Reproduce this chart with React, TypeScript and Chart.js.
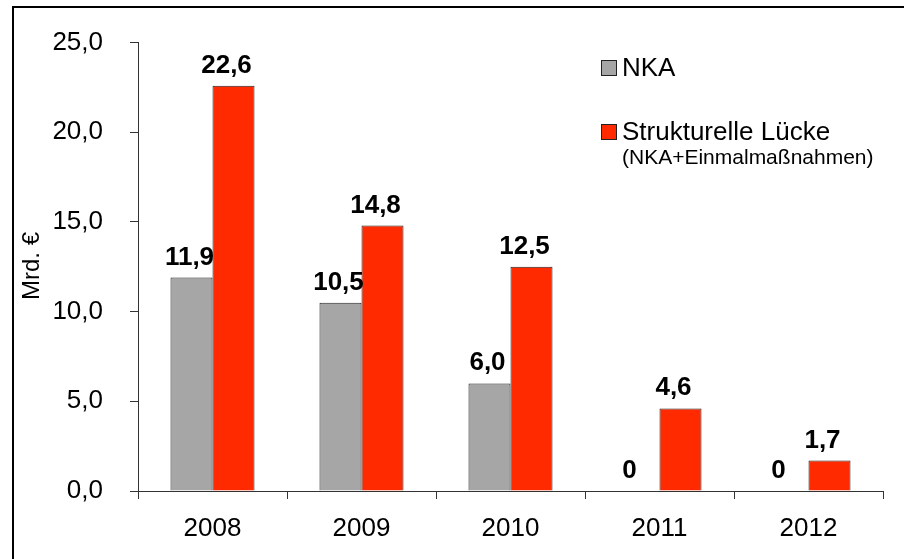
import React, { useEffect, useRef } from "react";
import { Chart, registerables } from "chart.js";

Chart.register(...registerables);

const categories = ["2008", "2009", "2010", "2011", "2012"];
const nkaValues = [11.9, 10.5, 6.0, 0, 0];
const luckeValues = [22.6, 14.8, 12.5, 4.6, 1.7];
const nkaLabel = "NKA";
const luckeLabel = "Strukturelle Lücke";
const luckeSubLabel = "(NKA+Einmalmaßnahmen)";
const yTitle = "Mrd. €";

const FONT = '"Liberation Sans", Arial, sans-serif';
const GRAY = "#A6A6A6";
const RED = "#FF2A00";

const fmt = (v: number) => (v === 0 ? "0" : v.toFixed(1).replace(".", ","));

const decorPlugin = {
  id: "decor",
  afterDatasetsDraw(chart: any) {
    const ctx = chart.ctx;
    ctx.save();
    // data labels
    ctx.fillStyle = "#000";
    ctx.font = `bold 26px ${FONT}`;
    ctx.textAlign = "center";
    ctx.textBaseline = "alphabetic";
    chart.data.datasets.forEach((ds: any, di: number) => {
      const meta = chart.getDatasetMeta(di);
      meta.data.forEach((bar: any, i: number) => {
        const v = ds.data[i];
        const shift = v === 0 ? -9 : di === 0 ? -2 : -7;
        ctx.fillText(fmt(v), bar.x + shift, bar.y - 13);
      });
    });
    // y title
    ctx.save();
    ctx.translate(39, 266);
    ctx.rotate(-Math.PI / 2);
    ctx.font = `24px ${FONT}`;
    ctx.textAlign = "center";
    ctx.textBaseline = "alphabetic";
    ctx.fillText(yTitle, 0, 0);
    ctx.restore();
    // legend
    ctx.lineWidth = 1;
    ctx.strokeStyle = "#222";
    ctx.fillStyle = GRAY;
    ctx.fillRect(601.5, 60.5, 15, 15);
    ctx.strokeRect(601.5, 60.5, 15, 15);
    ctx.fillStyle = RED;
    ctx.fillRect(601.5, 124.5, 15, 15);
    ctx.strokeRect(601.5, 124.5, 15, 15);
    ctx.fillStyle = "#000";
    ctx.textAlign = "left";
    ctx.font = `26px ${FONT}`;
    ctx.fillText(nkaLabel, 622, 76);
    ctx.fillText(luckeLabel, 622, 140);
    ctx.font = `21px ${FONT}`;
    ctx.fillText(luckeSubLabel, 622, 164);
    // frame
    ctx.fillStyle = "#000";
    ctx.fillRect(12, 6, 904, 2);
    ctx.fillRect(12, 6, 2, 559);
    ctx.restore();
  },
};

export default function App() {
  const ref = useRef<HTMLCanvasElement | null>(null);
  useEffect(() => {
    document.body.style.margin = "0";
    const canvas = ref.current!;
    const chart = new Chart(canvas, {
      type: "bar",
      data: {
        labels: categories,
        datasets: [
          {
            label: nkaLabel,
            data: nkaValues,
            backgroundColor: GRAY,
            borderColor: "#222",
            borderWidth: 1,
            borderSkipped: "bottom",
            categoryPercentage: 0.564,
            barPercentage: 1,
          },
          {
            label: luckeLabel,
            data: luckeValues,
            backgroundColor: RED,
            borderColor: "#222",
            borderWidth: 1,
            borderSkipped: "bottom",
            categoryPercentage: 0.564,
            barPercentage: 1,
          },
        ],
      },
      options: {
        responsive: false,
        animation: false,
        layout: { padding: { left: 0, top: 41, right: 21, bottom: 0 } },
        plugins: { legend: { display: false }, tooltip: { enabled: false } },
        scales: {
          x: {
            afterFit: (s: any) => {
              s.height = 68;
            },
            grid: {
              drawOnChartArea: false,
              drawTicks: true,
              tickLength: 8,
              color: "#333",
              offset: true,
            },
            border: { display: true, color: "#333", width: 1 },
            ticks: {
              color: "#000",
              font: { family: FONT, size: 26 },
              padding: 14,
              maxRotation: 0,
            },
          },
          y: {
            min: 0,
            max: 25,
            afterFit: (s: any) => {
              s.width = 138;
            },
            grid: {
              drawOnChartArea: false,
              drawTicks: true,
              tickLength: 8,
              color: "#333",
            },
            border: { display: true, color: "#333", width: 1 },
            ticks: {
              stepSize: 5,
              color: "#000",
              font: { family: FONT, size: 26 },
              padding: 27,
              callback: (v: any) => Number(v).toFixed(1).replace(".", ","),
            },
          },
        },
      },
      plugins: [decorPlugin],
    });
    return () => chart.destroy();
  }, []);
  return (
    <div style={{ width: 904, height: 559, position: "relative", background: "#fff" }}>
      <canvas ref={ref} width={904} height={559} style={{ display: "block" }} />
    </div>
  );
}
